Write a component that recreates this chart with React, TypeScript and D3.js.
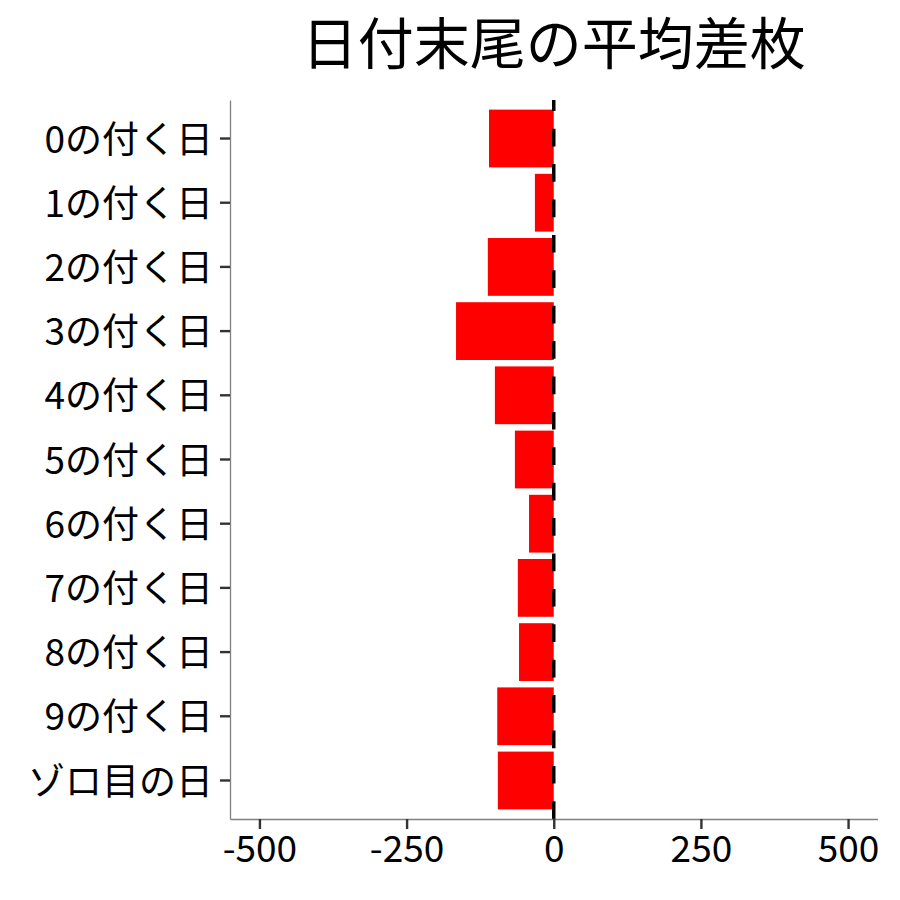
import { useEffect, useRef } from 'react';
import * as d3 from 'd3';

const categories = [
  '0の付く日', '1の付く日', '2の付く日', '3の付く日', '4の付く日', '5の付く日',
  '6の付く日', '7の付く日', '8の付く日', '9の付く日', 'ゾロ目の日',
];
const avgDiff = [-110, -32, -112, -166, -100, -66, -42, -61, -59, -96, -95];
const xTicks = [-500, -250, 0, 250, 500];
const title = '日付末尾の平均差枚';

const FONT = '"Noto Sans CJK JP", "Noto Sans", sans-serif';

export default function App() {
  const svgRef = useRef<SVGSVGElement>(null);

  useEffect(() => {
    if (!svgRef.current) return;
    const svg = d3.select(svgRef.current);
    svg.selectAll('*').remove();

    const left = 230, right = 877.5, top = 100, bottom = 819;

    const x = d3.scaleLinear().domain([-550, 550]).range([left, right]);
    const y = d3.scaleBand<string>()
      .domain(categories)
      .range([top, bottom])
      .paddingInner(0.1)
      .paddingOuter(0.15);

    const data = categories.map((c, i) => ({ name: c, value: avgDiff[i] }));

    // Title
    svg.append('text')
      .attr('x', (left + right) / 2)
      .attr('y', 64)
      .attr('text-anchor', 'middle')
      .style('font-family', FONT)
      .style('font-size', '56px')
      .style('fill', '#000')
      .text(title);

    // Bars
    svg.append('g')
      .selectAll('rect')
      .data(data)
      .join('rect')
      .attr('x', d => x(Math.min(0, d.value)))
      .attr('y', d => y(d.name) || 0)
      .attr('width', d => Math.abs(x(d.value) - x(0)))
      .attr('height', y.bandwidth())
      .attr('fill', '#ff0000');

    // Zero line, dashed, drawn from the bottom up
    svg.append('line')
      .attr('x1', x(0))
      .attr('x2', x(0))
      .attr('y1', bottom)
      .attr('y2', top)
      .attr('stroke', '#000')
      .attr('stroke-width', 3.5)
      .attr('stroke-dasharray', '17.7 17.7');

    // x-axis
    const gx = svg.append('g')
      .attr('transform', `translate(0,${bottom})`)
      .call(d3.axisBottom(x)
        .tickValues(xTicks)
        .tickFormat(d => String(d))
        .tickSize(10).tickPadding(7).tickSizeOuter(0));
    gx.select('.domain').attr('stroke', '#808080').attr('stroke-width', 1.3);
    gx.selectAll('.tick line').attr('stroke', '#333333').attr('stroke-width', 2.4);
    gx.selectAll('.tick text')
      .style('font-family', FONT)
      .style('font-size', '37px')
      .style('fill', '#000');

    // y-axis
    const gy = svg.append('g')
      .attr('transform', `translate(${left},0)`)
      .call(d3.axisLeft(y).tickSize(10).tickPadding(7).tickSizeOuter(0));
    gy.select('.domain').attr('stroke', '#808080').attr('stroke-width', 1.3);
    gy.selectAll('.tick line').attr('stroke', '#333333').attr('stroke-width', 2.4);
    gy.selectAll('.tick text')
      .attr('dy', '0.38em')
      .style('font-family', FONT)
      .style('font-size', '37px')
      .style('fill', '#000');
  }, []);

  return (
    <svg
      ref={svgRef}
      width={900}
      height={900}
      style={{ position: 'absolute', left: 0, top: 0, background: '#fff' }}
    />
  );
}
